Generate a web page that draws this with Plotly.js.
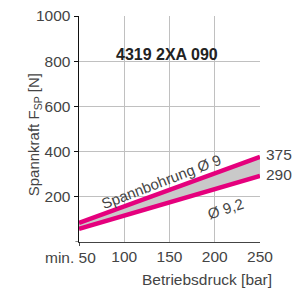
<!DOCTYPE html>
<html><head><meta charset="utf-8">
<script src="https://cdn.plot.ly/plotly-3.0.1.min.js"></script>
<style>html,body{margin:0;padding:0;background:#fff}#c{width:296px;height:294px}</style>
</head><body><div id="c"></div>
<script>
const pressure = [50, 250];
const bore9 = [85, 377];
const bore92 = [58, 292];
const endLabels = ['375', '290'];
const xTickVals = [100, 150, 200, 250];
const xTickText = ['100', '150', '200', '250'];
const yTickVals = [200, 400, 600, 800, 1000];
const yTickText = ['200', '400', '600', '800', '1000'];

const FONT = 'Liberation Sans, Arial, sans-serif';
const TXT = '#444';
const PINK = '#e5007d';

const traces = [
  {x: pressure, y: bore92, mode: 'lines', line: {color: PINK, width: 4.5}, hoverinfo: 'skip'},
  {x: pressure, y: bore9, mode: 'lines', line: {color: PINK, width: 4.5}, fill: 'tonexty', fillcolor: '#c9c9c9', hoverinfo: 'skip'}
];

const layout = {
  width: 296, height: 294,
  margin: {l: 79, r: 35.5, t: 16, b: 52},
  paper_bgcolor: '#fff', plot_bgcolor: '#fff',
  showlegend: false,
  font: {family: FONT, color: TXT, size: 15},
  xaxis: {
    range: [50, 250], tickvals: xTickVals, ticktext: xTickText,
    showgrid: true, gridcolor: '#c0c0c0', gridwidth: 1,
    zeroline: false, showline: true, linecolor: '#444', linewidth: 1,
    ticks: '', tickfont: {size: 15.5, color: TXT}, fixedrange: true
  },
  yaxis: {
    range: [0, 1000], tickvals: yTickVals, ticktext: yTickText,
    showgrid: true, gridcolor: '#c0c0c0', gridwidth: 1,
    zeroline: false, showline: true, linecolor: '#111', linewidth: 1.5,
    ticks: 'outside', ticklen: 4, tickcolor: '#111', tickwidth: 1,
    tickfont: {size: 15.5, color: TXT},
    fixedrange: true
  },
  annotations: [
    {xref: 'paper', yref: 'paper', x: 0.485, y: 0.876, text: '<b>4319 2XA 090</b>', showarrow: false, font: {size: 16, color: '#222'}},
    {xref: 'x', yref: 'y', x: 250, y: bore9[1], text: endLabels[0], showarrow: false, xanchor: 'left', xshift: 4, yshift: 2, font: {size: 15.5, color: TXT}},
    {xref: 'x', yref: 'y', x: 250, y: bore92[1], text: endLabels[1], showarrow: false, xanchor: 'left', xshift: 4, yshift: 2, font: {size: 15.5, color: TXT}},
    {xref: 'x', yref: 'y', x: 50, y: 0, text: 'min. 50', showarrow: false, xanchor: 'right', yanchor: 'top', xshift: 19, yshift: -5, font: {size: 15.5, color: TXT}},
    {xref: 'paper', yref: 'paper', x: 1.08, y: -0.12, text: 'Betriebsdruck [bar]', showarrow: false, xanchor: 'right', yanchor: 'top', font: {size: 15.5, color: TXT}},
    {xref: 'paper', yref: 'paper', x: -0.31, y: 0.755, text: 'Spannkraft F<sub>SP</sub> [N]', showarrow: false, textangle: -90, font: {size: 15, color: TXT}},
    {xref: 'x', yref: 'y', x: 141, y: 266, text: 'Spannbohrung Ø 9', showarrow: false, textangle: -21, font: {size: 15, color: TXT}},
    {xref: 'x', yref: 'y', x: 212, y: 150, text: 'Ø 9,2', showarrow: false, textangle: -18, font: {size: 15, color: TXT}}
  ],
  shapes: [
    {type: 'line', xref: 'x', yref: 'paper', x0: 50, x1: 50, y0: 0, y1: -0.018, line: {color: '#111', width: 1.5}},
    {type: 'line', xref: 'paper', yref: 'y', x0: 0, x1: -0.02, y0: 0, y1: 0, line: {color: '#111', width: 1}}
  ]
};

Plotly.newPlot('c', traces, layout, {staticPlot: true, displayModeBar: false});
</script></body></html>
